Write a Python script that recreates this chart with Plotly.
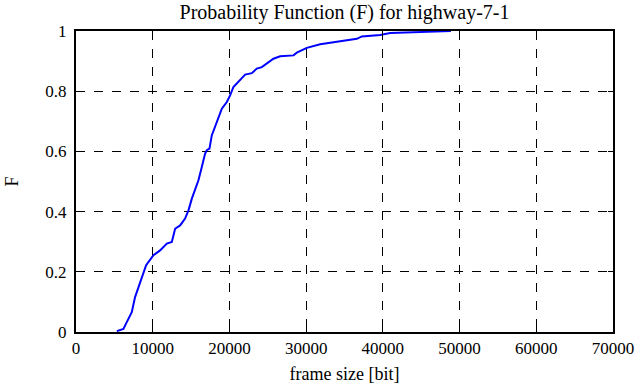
import plotly.graph_objects as go

frame_size = [5320, 6180, 6620, 7270, 7700, 8140, 8700, 9140, 10100, 10960, 11840, 12490,
              12920, 13570, 14220, 14660, 15100, 15530, 15960, 16400, 16830, 17050, 17400,
              17700, 18140, 18570, 19010, 19660, 20090, 20520, 21170, 22050, 22920, 23570,
              24220, 25090, 25740, 26610, 28350, 28780, 30090, 31830, 33560, 35300, 36610,
              37260, 39650, 40950, 43990, 47460, 48870]
F = [0.003, 0.01, 0.033, 0.066, 0.116, 0.15, 0.194, 0.222, 0.255, 0.271, 0.294, 0.299,
     0.343, 0.354, 0.377, 0.404, 0.443, 0.471, 0.504, 0.548, 0.593, 0.604, 0.609,
     0.653, 0.681, 0.709, 0.742, 0.764, 0.786, 0.814, 0.831, 0.855, 0.860, 0.875,
     0.880, 0.897, 0.908, 0.916, 0.919, 0.928, 0.944, 0.956, 0.962, 0.969, 0.974,
     0.982, 0.987, 0.993, 0.995, 0.997, 1.0]

x_ticks = [0, 10000, 20000, 30000, 40000, 50000, 60000, 70000]
y_ticks = [0, 0.2, 0.4, 0.6, 0.8, 1]
y_labels = ["0", "0.2", "0.4", "0.6", "0.8", "1"]

FONT = "Liberation Serif"

fig = go.Figure()
fig.add_trace(go.Scatter(x=frame_size, y=F, mode="lines",
                         line=dict(color="#0000ff", width=2), showlegend=False))

axis_common = dict(showline=True, linecolor="black", linewidth=2, mirror="allticks",
                   ticks="inside", ticklen=5, tickcolor="black", tickwidth=1,
                   showgrid=True, gridcolor="black", griddash="dash", gridwidth=1,
                   zeroline=False, automargin=False,
                   tickfont=dict(family=FONT, size=17, color="black"))

fig.update_xaxes(range=[0, 70000], tickvals=x_ticks, ticktext=[str(v) for v in x_ticks],
                 title=dict(text="frame size [bit]", font=dict(family=FONT, size=18, color="black"),
                            standoff=10),
                 **axis_common)
fig.update_yaxes(range=[0, 1], tickvals=y_ticks, ticktext=y_labels, ticklabelstandoff=4,
                 title=dict(text="F", font=dict(family=FONT, size=18, color="black"), standoff=22),
                 **axis_common)

fig.update_layout(
    width=639, height=387,
    margin=dict(l=76, r=26, t=31, b=55),
    font=dict(family=FONT, size=17, color="black"),
    paper_bgcolor="white", plot_bgcolor="white",
    title=dict(text="Probability Function (F) for highway-7-1", x=0.5, xanchor="center",
               xref="paper", yref="container", y=0.988, yanchor="top",
               font=dict(family=FONT, size=20, color="black")),
)

fig.write_html("out.html", config={"displayModeBar": False, "staticPlot": True},
               post_script="document.body.style.margin='0';")
